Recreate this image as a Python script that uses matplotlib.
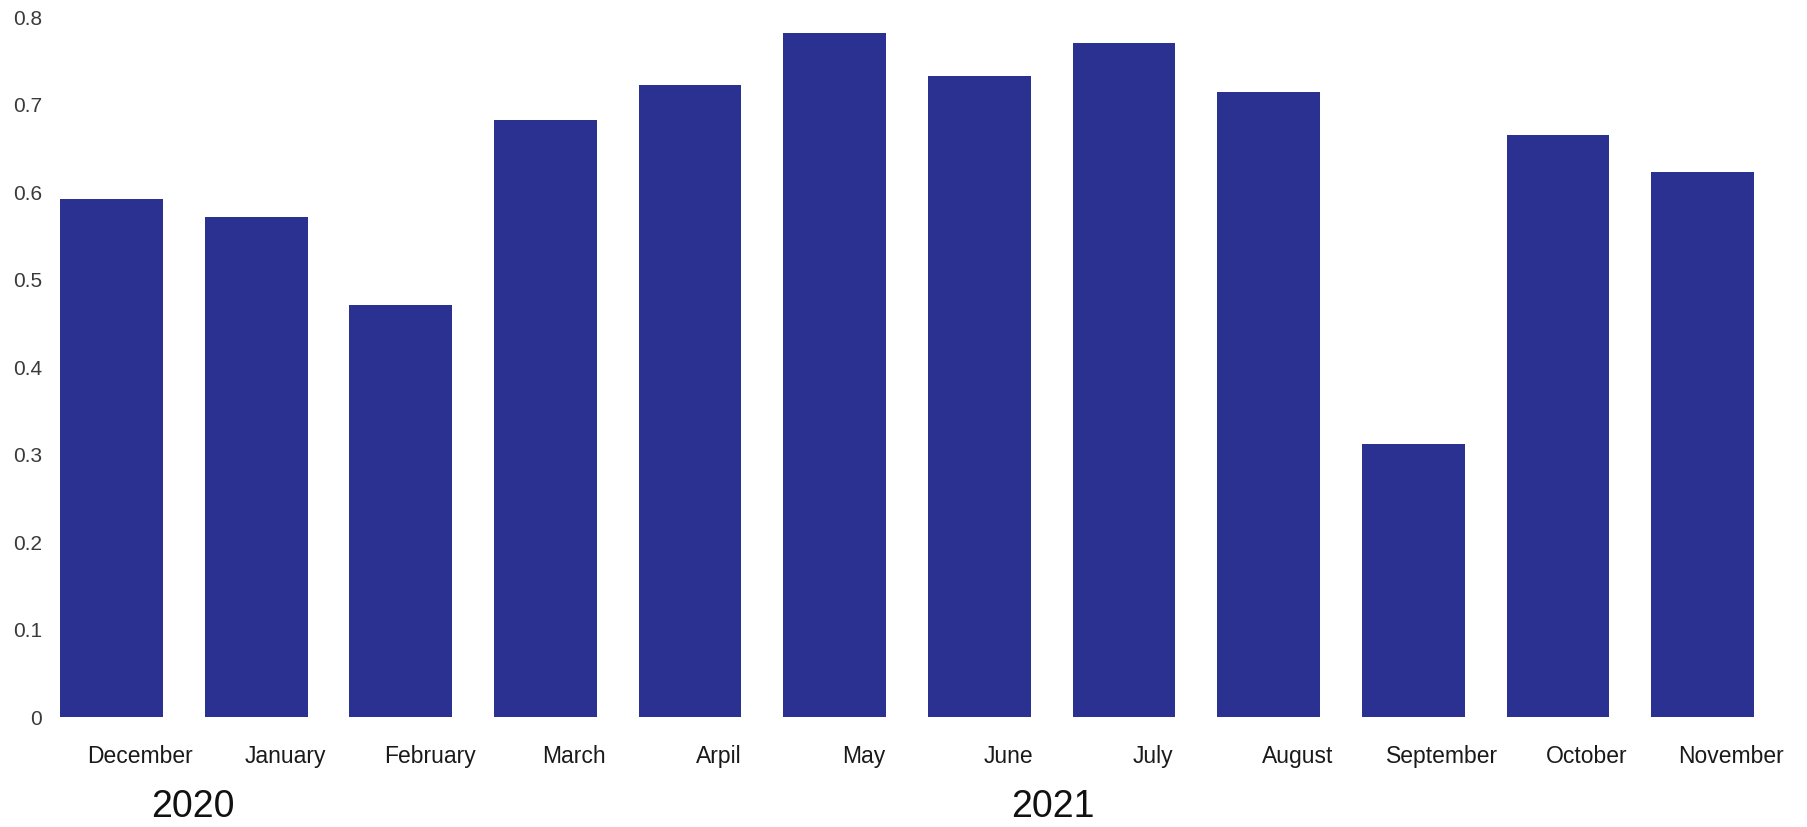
import numpy as np
import matplotlib.pyplot as plt
import matplotlib.transforms as mtransforms

# monthly values, Dec 2020 - Nov 2021
months = ["December", "January", "February", "March", "Arpil", "May",
          "June", "July", "August", "September", "October", "November"]
values = [0.592, 0.572, 0.471, 0.682, 0.722, 0.782,
          0.733, 0.770, 0.714, 0.312, 0.665, 0.623]
years = ["2020", "2021"]
year_pos = [0.56, 6.51]   # x position of the year captions (bar units)
yticks = [0, 0.1, 0.2, 0.3, 0.4, 0.5, 0.6, 0.7, 0.8]

bar_color = "#2a3190"
label_font = ["Liberation Sans", "DejaVu Sans"]

fig = plt.figure(figsize=(18.07, 8.27), dpi=100)
ax = fig.add_axes([0.0288, 0.1330, 0.9618, 0.8464])

x = np.arange(len(months))
ax.bar(x, values, width=0.71, color=bar_color)

ax.set_xlim(-0.4115, 11.605)
ax.set_ylim(0, 0.8)

for s in ax.spines.values():
    s.set_visible(False)

ax.set_yticks(yticks)
ax.set_yticklabels(["0" if v == 0 else f"{v:.1f}" for v in yticks],
                   fontsize=15, color="#3a3a3a", family=label_font)
ax.tick_params(axis="y", length=0, pad=7)
ax.set_xticks([])

# month names sit a little to the right of each bar
trans = mtransforms.blended_transform_factory(ax.transData, ax.transAxes)
for xi, m in zip(x, months):
    ax.text(xi + 0.2, -0.065, m, transform=trans, ha="center", va="baseline",
            fontsize=16.5, family=label_font, color="#1a1a1a")

ytrans = mtransforms.blended_transform_factory(ax.transData, fig.transFigure)
for xp, yr in zip(year_pos, years):
    ax.text(xp, 0.012, yr, transform=ytrans, ha="center", va="baseline",
            fontsize=27, family=label_font, color="#111111", clip_on=False)

fig.savefig("out.png", dpi=100, facecolor="white")
